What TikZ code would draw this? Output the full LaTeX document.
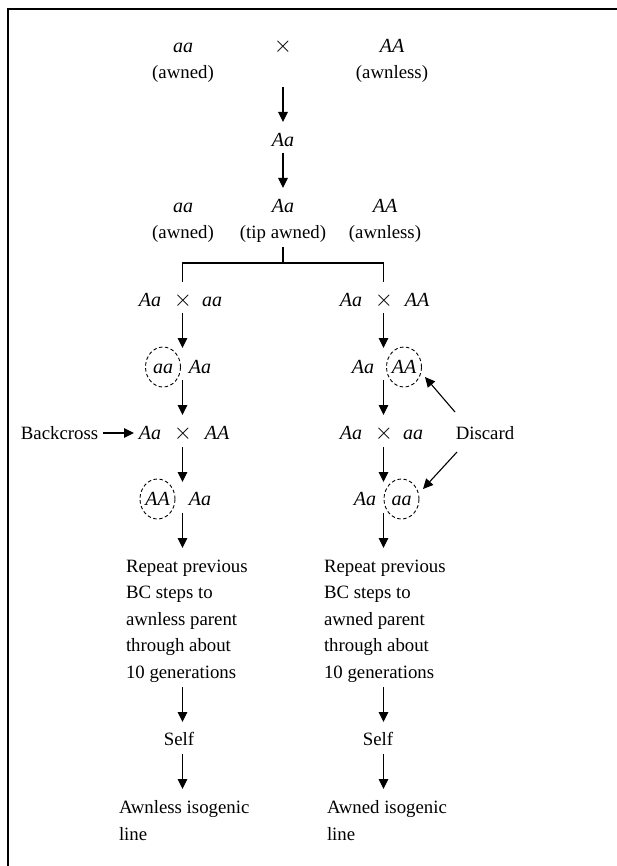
\documentclass[tikz,border=0pt]{standalone}
\usepackage{fontspec}
\setmainfont{Liberation Serif}
\usetikzlibrary{arrows.meta,shapes.geometric}
\newcommand{\crs}{\scalebox{1.35}{$\times$}}
\begin{document}
\begin{tikzpicture}[x=1pt,y=-1pt,
  every node/.style={inner sep=0pt,outer sep=0pt,font=\fontsize{18.8}{26.5}\selectfont},
  g/.style={anchor=base,font=\fontsize{20}{26.5}\selectfont\itshape},
  t/.style={anchor=base},
  blk/.style={anchor=north west,align=left},
  arr/.style={line width=1.1pt,-{Triangle[length=10pt,width=9.5pt]}},
  ln/.style={line width=1.1pt},
  disc/.style={draw,line width=0.9pt,dash pattern=on 3.5pt off 2.5pt,ellipse,minimum width=35pt,minimum height=40pt,
     text height=13pt,text depth=0pt,font=\fontsize{20}{26.5}\selectfont\itshape},
  frame/.style={line width=2pt}]
\useasboundingbox (0,0) rectangle (617,866);
\draw[frame] (7.5,866) -- (7.5,9.5) -- (617,9.5);
% top cross
\node[g] (p1) at (183,52.5) {aa};
\node[t] (x0) at (283,52.5) {\crs};
\node[g] (p2) at (392,52.5) {AA};
\node[t] (p1l) at (183,79) {(awned)};
\node[t] (p2l) at (392,79) {(awnless)};
\node[g] (f1) at (283,146.5) {Aa};
\coordinate (a1s) at (283,87); \coordinate (a1e) at (283,122);
\draw[arr] (a1s) -- (a1e);
\coordinate (a2s) at (283,153); \coordinate (a2e) at (283,188);
\draw[arr] (a2s) -- (a2e);
% F2
\node[g] (s1) at (183,213) {aa};
\node[g] (s2) at (283,213) {Aa};
\node[g] (s3) at (385,213) {AA};
\node[t] (s1l) at (183,239) {(awned)};
\node[t] (s2l) at (283,239) {(tip awned)};
\node[t] (s3l) at (385,239) {(awnless)};
% bracket
\coordinate (bt) at (283,247); \coordinate (bm) at (283,263);
\coordinate (bl) at (182.5,263); \coordinate (br) at (383.5,263);
\coordinate (bld) at (182.5,282); \coordinate (brd) at (383.5,282);
\draw[ln] (bt) -- (bm);
\draw[ln] (bld) -- (bl) -- (br) -- (brd);
% left branch
\node[g] (la1) at (150,306.7) {Aa};
\node[t] (lx1) at (183,306.7) {\crs};
\node[g] (la2) at (212,306.7) {aa};
\node[disc] (lc1) at (163,367) {aa};
\node[g] (lb2) at (200,373) {Aa};
\node[t] (bc) at (59.5,439) {Backcross};
\node[g] (lc3) at (150,439) {Aa};
\node[t] (lx2) at (183,439) {\crs};
\node[g] (lc4) at (217,439) {AA};
\node[disc] (ld1) at (157.5,499) {AA};
\node[g] (ld2) at (200,505.7) {Aa};
\coordinate (bcs) at (103,433); \coordinate (bce) at (134,433);
\draw[arr] (bcs) -- (bce);
% right branch
\node[g] (ra1) at (351,306.7) {Aa};
\node[t] (rx1) at (384,306.7) {\crs};
\node[g] (ra2) at (417,306.7) {AA};
\node[g] (rb1) at (363,373) {Aa};
\node[disc] (rc1) at (404,367) {AA};
\node[g] (rc3) at (351,439) {Aa};
\node[t] (rx2) at (384,439) {\crs};
\node[g] (rc4) at (413,439) {aa};
\node[t] (dis) at (485,439) {Discard};
\node[g] (rd1) at (365,505.7) {Aa};
\node[disc] (rd2) at (401.5,499) {aa};
\coordinate (d1s) at (455,412); \coordinate (d1e) at (425,377);
\coordinate (d2s) at (457,452); \coordinate (d2e) at (423,489);
\draw[arr] (d1s) -- (d1e);
\draw[arr] (d2s) -- (d2e);
% vertical arrows in branches
\foreach \ys/\ye [count=\i] in {313/348,380/415,447/482,513/548,687/722,754/789}{
  \coordinate (L\i s) at (182.5,\ys); \coordinate (L\i e) at (182.5,\ye);
  \coordinate (R\i s) at (383.5,\ys); \coordinate (R\i e) at (383.5,\ye);
  \draw[arr] (L\i s) -- (L\i e);
  \draw[arr] (R\i s) -- (R\i e);
}
% text blocks
\node[blk] (lrep) at (126,559.9) {Repeat previous\\BC steps to\\awnless parent\\through about\\10 generations};
\node[blk] (rrep) at (324,559.9) {Repeat previous\\BC steps to\\awned parent\\through about\\10 generations};
\node[t] (lself) at (179,745.3) {Self};
\node[t] (rself) at (378,745.3) {Self};
\node[blk] (lend) at (119,800.5) {Awnless isogenic\\line};
\node[blk] (rend) at (327,800.5) {Awned isogenic\\line};
\end{tikzpicture}
\end{document}
